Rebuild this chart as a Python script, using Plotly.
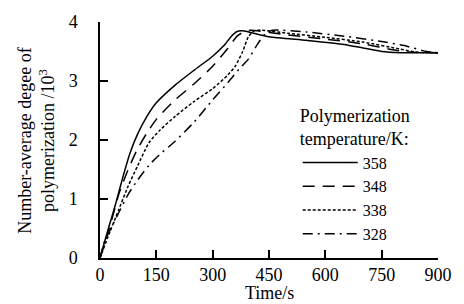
import plotly.graph_objects as go

FONT = "serif"

t358 = [0, 20, 40, 60, 80, 100, 125, 150, 200, 250, 300, 330, 350, 365, 380, 450, 550, 650, 700, 750, 800, 900]
y358 = [0, 0.45, 0.88, 1.35, 1.78, 2.1, 2.4, 2.63, 2.93, 3.18, 3.42, 3.6, 3.76, 3.84, 3.85, 3.75, 3.69, 3.62, 3.56, 3.5, 3.48, 3.48]

t348 = [0, 25, 50, 75, 100, 125, 150, 200, 250, 300, 340, 365, 385, 400, 500, 600, 700, 780, 820, 900]
y348 = [0, 0.5, 1.08, 1.5, 1.85, 2.12, 2.35, 2.68, 2.95, 3.25, 3.55, 3.76, 3.84, 3.86, 3.78, 3.71, 3.63, 3.53, 3.49, 3.48]

t338 = [0, 25, 50, 75, 100, 130, 160, 200, 250, 300, 340, 360, 380, 395, 410, 430, 500, 600, 700, 800, 840, 900]
y338 = [0, 0.42, 0.82, 1.22, 1.56, 1.95, 2.17, 2.4, 2.65, 2.87, 3.1, 3.25, 3.5, 3.75, 3.85, 3.86, 3.81, 3.74, 3.66, 3.54, 3.49, 3.48]

t328 = [0, 13, 25, 40, 75, 100, 130, 160, 200, 250, 300, 340, 370, 395, 420, 440, 460, 550, 650, 750, 810, 870, 900]
y328 = [0, 0.3, 0.45, 0.64, 1.08, 1.32, 1.57, 1.76, 1.98, 2.3, 2.68, 2.97, 3.2, 3.37, 3.63, 3.8, 3.86, 3.83, 3.76, 3.67, 3.6, 3.5, 3.48]

series = [
    ("358", t358, y358, "solid"),
    ("348", t348, y348, "12px,8px"),
    ("338", t338, y338, "3px,2px"),
    ("328", t328, y328, "10px,5px,2px,5px"),
]

x_ticks = [0, 150, 300, 450, 600, 750, 900]
y_ticks = [0, 1, 2, 3, 4]

fig = go.Figure()
for name, t, y, dash in series:
    fig.add_trace(go.Scatter(
        x=t, y=y, mode="lines", name=name,
        line=dict(color="black", width=1.5, dash=dash, shape="spline", smoothing=0.6),
    ))

fig.update_layout(
    width=464, height=304,
    margin=dict(l=100, r=21, t=20, b=46),
    paper_bgcolor="white", plot_bgcolor="white",
    font=dict(family=FONT, color="black"),
    showlegend=True,
    legend=dict(
        x=0.585, y=0.675, xanchor="left", yanchor="top",
        bgcolor="rgba(0,0,0,0)",
        font=dict(family=FONT, size=16, color="black"),
        title=dict(text="Polymerization<br>temperature/K:", font=dict(family=FONT, size=18, color="black")),
        tracegroupgap=0, itemwidth=55,
    ),
    xaxis=dict(
        range=[0, 900], tickvals=x_ticks, ticktext=[str(v) for v in x_ticks],
        showgrid=False, zeroline=False, showline=True, linecolor="black", linewidth=1.5,
        ticks="inside", ticklen=8, tickcolor="black", tickwidth=1.5,
        tickfont=dict(family=FONT, size=18, color="black"), fixedrange=True,
    ),
    yaxis=dict(
        range=[0, 4], tickvals=y_ticks, ticktext=[str(v) for v in y_ticks],
        showgrid=False, zeroline=False, showline=True, linecolor="black", linewidth=1.5,
        ticks="inside", ticklen=8, tickcolor="black", tickwidth=1.5,
        tickfont=dict(family=FONT, size=18, color="black"), ticklabelstandoff=17, fixedrange=True,
    ),
    annotations=[
        dict(text="Number-average degee of<br>polymerization /10<sup>3</sup>",
             xref="paper", yref="paper", x=-0.19, y=0.5, xanchor="center", yanchor="middle",
             textangle=-90, showarrow=False, font=dict(family=FONT, size=18, color="black")),
        dict(text="Time/s", xref="paper", yref="paper", x=0.5, y=-0.147,
             xanchor="center", yanchor="middle", showarrow=False, font=dict(family=FONT, size=18, color="black")),
    ],
)

fig.write_html("out.html", post_script="document.body.style.margin='0';document.body.style.padding='0';",
               config={"displayModeBar": False})
